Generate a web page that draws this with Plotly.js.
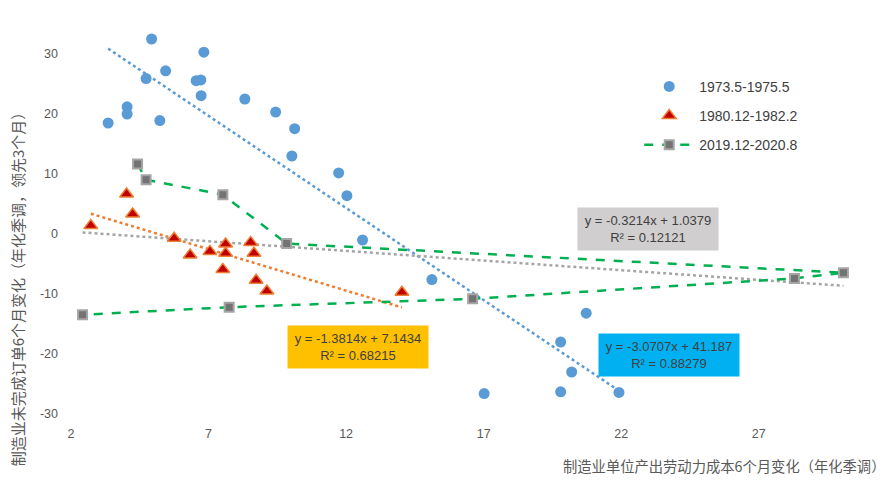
<!DOCTYPE html>
<html>
<head>
<meta charset="utf-8">
<script src="https://cdn.plot.ly/plotly-3.0.1.min.js"></script>
<style>html,body{margin:0;padding:0;background:#fff}#chart{width:894px;height:485px}</style>
</head>
<body>
<div id="chart"></div>
<script>
// ---- data ----
const seriesNames = ["1973.5-1975.5", "1980.12-1982.2", "2019.12-2020.8"];

const blueX = [3.35, 4.04, 4.04, 4.73, 4.93, 5.23, 5.44, 6.55, 6.72, 6.73, 6.83, 8.32, 9.44, 10.03, 10.13, 11.73, 12.03, 12.6, 15.12, 17.02, 19.8, 19.8, 20.2, 20.73, 21.92];
const blueY = [18.5, 20.0, 21.2, 25.9, 32.5, 18.9, 27.2, 25.55, 25.67, 23.05, 30.3, 22.5, 20.33, 13.0, 17.55, 10.17, 6.38, -1.0, -7.6, -26.6, -18.0, -26.3, -23.0, -13.2, -26.4];

const redX = [2.72, 4.02, 4.24, 5.75, 6.33, 7.05, 7.52, 7.62, 7.62, 8.53, 8.65, 8.73, 9.12, 14.03];
const redY = [1.4, 6.67, 3.33, -0.7, -3.5, -2.9, -5.9, -1.67, -3.2, -1.4, -3.2, -7.7, -9.5, -9.7];

const greenX = [4.42, 4.73, 7.52, 9.84, 30.08, 28.3, 16.6, 7.75, 2.42];
const greenY = [11.67, 9.05, 6.55, -1.6, -6.45, -7.4, -10.8, -12.2, -13.45];

// trend line coefficients [slope, intercept, R2] as printed on the chart
const blueFit = [-3.0707, 41.187, "0.88279"];
const redFit = [-1.3814, 7.1434, "0.68215"];
const greenFit = [-0.3214, 1.0379, "0.12121"];

const xTicks = [2, 7, 12, 17, 22, 27];
const yTicks = [-30, -20, -10, 0, 10, 20, 30];

const xTitle = "制造业单位产出劳动力成本6个月变化（年化季调）";
const yTitle = "制造业未完成订单6个月变化（年化季调，领先3个月）";

// ---- build ----
function trend(xs, fit) {
  const x0 = Math.min(...xs), x1 = Math.max(...xs);
  return {x: [x0, x1], y: [fit[0] * x0 + fit[1], fit[0] * x1 + fit[1]]};
}
function fitText(fit) {
  const s = fit[0] < 0 ? "-" + Math.abs(fit[0]) : String(fit[0]);
  return "y = " + s + "x + " + fit[1] + "<br>R² = " + fit[2];
}

const numFont = "'Liberation Sans', Arial, sans-serif";
const cjkFont = "'Noto Sans CJK SC', sans-serif";

const tb = trend(blueX, blueFit), tr = trend(redX, redFit), tg = trend(greenX, greenFit);

const traces = [
  {x: tb.x, y: tb.y, mode: "lines", line: {color: "#5b9bd5", width: 2.5, dash: "dot"}, showlegend: false, hoverinfo: "skip"},
  {x: tr.x, y: tr.y, mode: "lines", line: {color: "#ed7d31", width: 2.5, dash: "dot"}, showlegend: false, hoverinfo: "skip"},
  {x: tg.x, y: tg.y, mode: "lines", line: {color: "#a5a5a5", width: 2.5, dash: "dot"}, showlegend: false, hoverinfo: "skip"},
  {x: greenX, y: greenY, name: seriesNames[2], mode: "lines+markers", legendgroup: "c", legendrank: 3,
   line: {color: "#00b050", width: 2.5, dash: "dash"},
   marker: {symbol: "square", size: 9, color: "#737373", line: {color: "#a5a5a5", width: 2}}},
  {x: redX, y: redY, name: seriesNames[1], mode: "markers", legendgroup: "b", legendrank: 2,
   marker: {symbol: "triangle-up", size: 12, color: "#c00000", line: {color: "#ed7d31", width: 1.5}}},
  {x: blueX, y: blueY, name: seriesNames[0], mode: "markers", legendgroup: "a", legendrank: 1,
   marker: {symbol: "circle", size: 11, color: "#5b9bd5", line: {width: 0}}}
];

function box(x, y, fit, bg) {
  return {x: x, y: y, xref: "x", yref: "y", text: fitText(fit), showarrow: false,
    bgcolor: bg, width: 140, height: 42, borderpad: 0,
    font: {family: numFont, size: 13, color: "#404040"}, align: "center"};
}

const layout = {
  width: 894, height: 485,
  margin: {l: 71, r: 17, t: 24, b: 71},
  paper_bgcolor: "#ffffff", plot_bgcolor: "#ffffff",
  xaxis: {range: [2, 31.3], tickvals: xTicks, ticktext: xTicks.map(String), showgrid: false, zeroline: false,
    showline: false, ticks: "", tickfont: {family: numFont, size: 12.5, color: "#595959"}, ticklabelstandoff: 10},
  yaxis: {range: [-30, 35], tickvals: yTicks, ticktext: yTicks.map(String), showgrid: false, zeroline: false,
    showline: false, ticks: "", tickfont: {family: numFont, size: 12.5, color: "#595959"}, ticklabelstandoff: 12},
  showlegend: true,
  legend: {xref: "paper", yref: "paper", x: 0.705, y: 0.88, xanchor: "left", yanchor: "top",
    font: {family: numFont, size: 14, color: "#404040"}, tracegroupgap: 8, itemwidth: 50,
    traceorder: "grouped", bgcolor: "rgba(0,0,0,0)"},
  annotations: [
    box(22.98, 0.83, greenFit, "#d0cece"),
    box(12.44, -18.8, redFit, "#ffc000"),
    box(23.75, -20.1, blueFit, "#00b0f0"),
    {xref: "paper", yref: "paper", x: 1.013, y: -0.133, xanchor: "right", yanchor: "middle", showarrow: false,
     text: xTitle, font: {family: cjkFont, size: 14.3, color: "#595959"}},
    {xref: "paper", yref: "paper", x: -0.067, y: 0.33, xanchor: "center", yanchor: "middle", showarrow: false,
     textangle: -90, text: yTitle, font: {family: cjkFont, size: 15, color: "#595959"}}
  ]
};

Plotly.newPlot("chart", traces, layout, {displayModeBar: false, staticPlot: true});
</script>
</body>
</html>
